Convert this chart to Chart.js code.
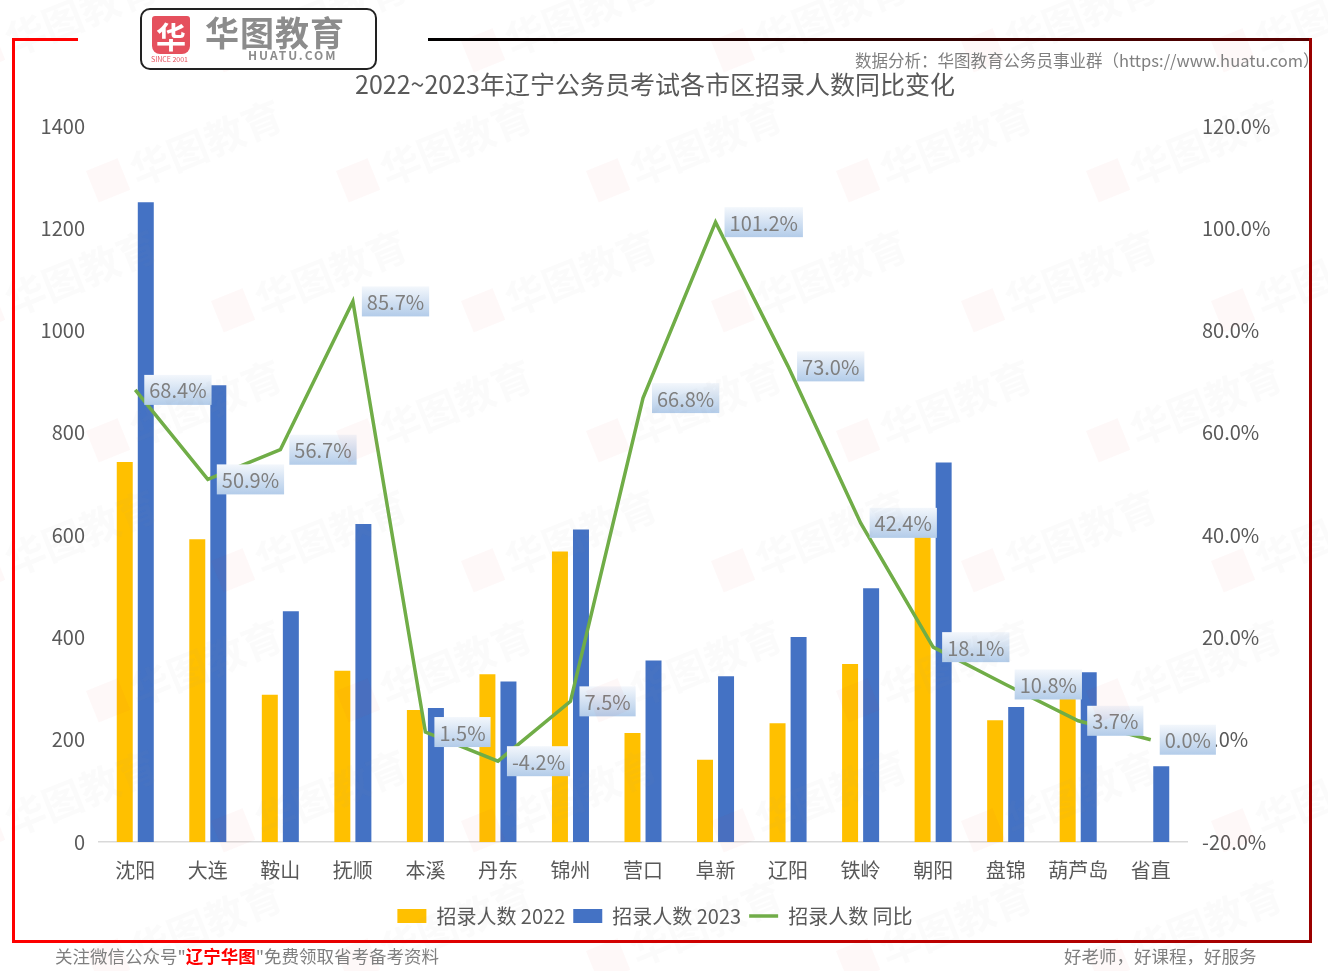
<!DOCTYPE html>
<html>
<head>
<meta charset="utf-8">
<script src="https://cdn.jsdelivr.net/npm/chart.js@4.4.0/dist/chart.umd.min.js"></script>
<style>
  html, body { margin: 0; padding: 0; background: #fff; }
  body { width: 1328px; height: 971px; position: relative; overflow: hidden; font-family: "Noto Sans CJK SC", "Noto Sans", sans-serif; }
  #chart { position: absolute; left: 0; top: 0; }
  .ln { position: absolute; }
  .logo { position: absolute; left: 140px; top: 8px; width: 233px; height: 58px; border: 2px solid #222; border-radius: 10px; background: #fff; }
  .shield { position: absolute; left: 10px; top: 6px; width: 38px; height: 38px; background: #e5505d; border-radius: 3px 3px 8px 8px; color: #fff; font-size: 30px; font-weight: bold; line-height: 38px; text-align: center; }
  .since { position: absolute; left: 9px; top: 45px; font-size: 7px; line-height: 8px; color: #e5505d; white-space: nowrap; }
  .brand { position: absolute; left: 63px; top: 5px; font-size: 34px; line-height: 34px; font-weight: bold; color: #8c8c8c; letter-spacing: 1px; white-space: nowrap; }
  .brand2 { position: absolute; left: 106px; top: 39px; font-size: 12px; line-height: 12px; font-weight: bold; color: #8c8c8c; letter-spacing: 2px; white-space: nowrap; }
  .src { position: absolute; left: 855px; top: 48px; font-size: 16.5px; color: #7f7f7f; white-space: nowrap; }
  .foot { position: absolute; top: 943px; font-size: 17.5px; color: #7f7f7f; white-space: nowrap; }
  .foot b { color: #ff0000; }
  #wm { position: absolute; left: 0; top: 0; width: 1328px; height: 971px; pointer-events: none; }
  .wm { position: absolute; transform: rotate(-22deg); white-space: nowrap; }
  .wm i { display: inline-block; width: 34px; height: 34px; background: rgba(230, 60, 70, 0.035); margin-right: 8px; vertical-align: middle; }
  .wm span { font-size: 40px; font-weight: bold; color: rgba(150, 150, 150, 0.04); vertical-align: middle; }
</style>
</head>
<body>
<canvas id="chart" width="1328" height="971"></canvas>
<div id="wm"></div>

<div class="ln" style="left:12px;top:38px;width:3px;height:905px;background:#ff0000;"></div>
<div class="ln" style="left:12px;top:38px;width:66px;height:3px;background:#ff0000;"></div>
<div class="ln" style="left:428px;top:38px;width:884px;height:3px;background:linear-gradient(to right,#000,#5a0000);"></div>
<div class="ln" style="left:1309px;top:38px;width:3px;height:905px;background:#9a0000;"></div>
<div class="ln" style="left:12px;top:940px;width:1300px;height:3px;background:linear-gradient(to right,#ff0000,#a00000);"></div>

<div class="logo">
  <div class="shield">华</div>
  <div class="since">SINCE 2001</div>
  <div class="brand">华图教育</div>
  <div class="brand2">HUATU.COM</div>
</div>
<div class="src">数据分析：华图教育公务员事业群（https://www.huatu.com）</div>
<div class="foot" style="left:55px;">关注微信公众号"<b>辽宁华图</b>"免费领取省考备考资料</div>
<div class="foot" style="left:1064px;">好老师，好课程，好服务</div>

<script>
// categories and values
const cities = ['沈阳', '大连', '鞍山', '抚顺', '本溪', '丹东', '锦州', '营口', '阜新', '辽阳', '铁岭', '朝阳', '盘锦', '葫芦岛', '省直'];
const hire2022 = [743, 592, 288, 335, 258, 328, 568, 213, 161, 232, 348, 628, 238, 320, 0];
const hire2023 = [1251, 893, 451, 622, 262, 314, 611, 355, 324, 401, 496, 742, 264, 332, 148];
const yoy = [68.4, 50.9, 56.7, 85.7, 1.5, -4.2, 7.5, 66.8, 101.2, 73.0, 42.4, 18.1, 10.8, 3.7, 0.0];

const FONT = '"Noto Sans CJK SC", "Noto Sans", sans-serif';
const GREY = '#595959';

// faint brand watermarks, staggered rows
var wm = document.getElementById('wm');
for (var r = 0; r < 8; r++) {
  for (var c = 0; c < 6; c++) {
    var d = document.createElement('div');
    d.className = 'wm';
    d.style.left = (c * 250 - 40 + (r % 2) * 125) + 'px';
    d.style.top = (r * 130 - 10) + 'px';
    d.innerHTML = '<i></i><span>华图教育</span>';
    wm.appendChild(d);
  }
}

// boxed percentage labels to the right of each line point
const ratioLabels = {
  id: 'ratioLabels',
  afterDatasetsDraw(chart) {
    const meta = chart.getDatasetMeta(2);
    const vals = chart.data.datasets[2].data;
    const ctx = chart.ctx;
    ctx.save();
    ctx.font = '20px ' + FONT;
    ctx.textBaseline = 'middle';
    meta.data.forEach(function (pt, i) {
      const text = vals[i].toFixed(1) + '%';
      const w = ctx.measureText(text).width + 10;
      const h = 30;
      const x = pt.x + 9;
      const y = pt.y - h / 2;
      const g = ctx.createLinearGradient(0, y, 0, y + h);
      g.addColorStop(0, '#f3f7fc');
      g.addColorStop(1, '#b3cce9');
      ctx.fillStyle = g;
      ctx.fillRect(x, y, w, h);
      ctx.fillStyle = '#7f7f7f';
      ctx.fillText(text, x + 5, pt.y + 1);
    });
    ctx.restore();
  }
};

const chart = new Chart(document.getElementById('chart'), {
  type: 'bar',
  data: {
    labels: cities,
    datasets: [
      {
        label: '招录人数 2022',
        data: hire2022,
        backgroundColor: '#ffc000',
        yAxisID: 'y',
        order: 1,
        barPercentage: 0.76,
        categoryPercentage: 0.58
      },
      {
        label: '招录人数 2023',
        data: hire2023,
        backgroundColor: '#4472c4',
        yAxisID: 'y',
        order: 1,
        barPercentage: 0.76,
        categoryPercentage: 0.58
      },
      {
        type: 'line',
        label: '招录人数 同比',
        data: yoy,
        borderColor: '#70ad47',
        backgroundColor: '#70ad47',
        borderWidth: 3.5,
        pointRadius: 0,
        tension: 0,
        yAxisID: 'y1',
        order: 0
      }
    ]
  },
  options: {
    responsive: false,
    animation: false,
    layout: { padding: { left: 20, right: 38, top: 54, bottom: 35 } },
    plugins: {
      title: {
        display: true,
        text: '2022~2023年辽宁公务员考试各市区招录人数同比变化',
        color: GREY,
        font: { family: FONT, size: 25, weight: 'normal' },
        padding: { top: 15, bottom: 27 }
      },
      legend: {
        position: 'bottom',
        labels: {
          color: GREY,
          font: { family: FONT, size: 20 },
          usePointStyle: true,
          pointStyleWidth: 29,
          boxHeight: 14,
          padding: 8,
          sort: function (a, b) { return a.datasetIndex - b.datasetIndex; },
          generateLabels: function (c) {
            const items = Chart.defaults.plugins.legend.labels.generateLabels(c);
            items.forEach(function (it) {
              if (it.datasetIndex === 2) {
                it.pointStyle = 'line';
                it.lineWidth = 3.5;
                it.strokeStyle = '#70ad47';
              } else {
                it.pointStyle = 'rect';
                it.lineWidth = 0;
              }
            });
            return items;
          }
        }
      },
      tooltip: { enabled: false }
    },
    scales: {
      x: {
        grid: { display: false, drawTicks: false },
        border: { display: true, color: '#d9d9d9', width: 1.5 },
        ticks: { color: GREY, font: { family: FONT, size: 20 }, padding: 16, maxRotation: 0 },
        afterFit: function (s) { s.height = 56; }
      },
      y: {
        position: 'left',
        min: 0,
        max: 1400,
        grid: { display: false, drawTicks: false },
        border: { display: false },
        ticks: {
          stepSize: 200,
          color: GREY,
          font: { family: FONT, size: 20 },
          padding: 14,
          callback: function (v) { return String(v); }
        },
        afterFit: function (s) { s.width = 79; }
      },
      y1: {
        position: 'right',
        min: -20,
        max: 120,
        grid: { display: false, drawTicks: false },
        border: { display: false },
        ticks: {
          stepSize: 20,
          color: GREY,
          font: { family: FONT, size: 20 },
          padding: 15,
          callback: function (v) { return v.toFixed(1) + '%'; }
        },
        afterFit: function (s) { s.width = 103; }
      }
    }
  },
  plugins: [ratioLabels]
});
</script>
</body>
</html>
